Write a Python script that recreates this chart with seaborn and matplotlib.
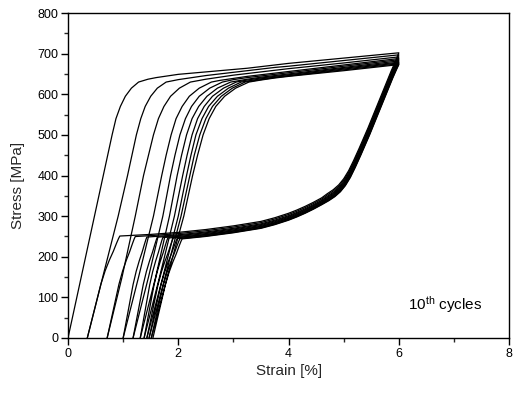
import numpy as np
import pandas as pd
import matplotlib
matplotlib.use("Agg")
import matplotlib.pyplot as plt
import seaborn as sns
from matplotlib.ticker import MultipleLocator

# ---------------- data ----------------
# residual strain at zero stress (start of cycle 1 ... end of cycle 10)
residual = [0.00, 0.35, 0.71, 1.00, 1.18, 1.31, 1.38, 1.43, 1.47, 1.51, 1.54]

# loading branch: strain at given stress levels, one row per cycle
load_levels = [0, 150, 300, 400, 450, 500, 540, 570, 595, 615, 630]
load_strain = [
    [0.00, 0.24, 0.48, 0.64, 0.72, 0.80, 0.87, 0.95, 1.04, 1.15, 1.28],
    [0.35, 0.63, 0.91, 1.08, 1.16, 1.24, 1.32, 1.40, 1.50, 1.62, 1.78],
    [0.71, 0.98, 1.22, 1.37, 1.46, 1.55, 1.64, 1.74, 1.86, 2.02, 2.22],
    [1.00, 1.28, 1.55, 1.70, 1.78, 1.87, 1.96, 2.07, 2.20, 2.38, 2.60],
    [1.18, 1.46, 1.72, 1.86, 1.94, 2.03, 2.13, 2.24, 2.38, 2.57, 2.80],
    [1.31, 1.59, 1.84, 1.98, 2.06, 2.15, 2.25, 2.37, 2.52, 2.71, 2.95],
    [1.38, 1.66, 1.93, 2.08, 2.16, 2.25, 2.35, 2.47, 2.62, 2.82, 3.05],
    [1.43, 1.72, 2.00, 2.15, 2.23, 2.32, 2.43, 2.55, 2.71, 2.91, 3.14],
    [1.47, 1.76, 2.05, 2.21, 2.29, 2.39, 2.50, 2.62, 2.78, 2.98, 3.21],
    [1.51, 1.80, 2.10, 2.26, 2.35, 2.45, 2.56, 2.68, 2.84, 3.04, 3.28],
]

# upper plateau: stress at given strains, one row per cycle
nan = np.nan
upper_x = [1.45, 1.6, 1.8, 2.0, 2.25, 2.5, 2.75, 3.0, 3.25, 3.5, 3.75, 4.0, 5.0, 6.0]
upper_stress = [
    [637, 641, 645, 649, 652, 655, 658, 661, 664, 668, 672, 676, 689, 702],
    [nan, nan, nan, 636, 641, 646, 650, 654, 658, 662, 666, 669, 683, 697],
    [nan, nan, nan, nan, nan, 637, 642, 647, 651, 655, 659, 663, 677, 692],
    [nan, nan, nan, nan, nan, nan, 634, 639, 644, 648, 652, 656, 672, 688],
    [nan, nan, nan, nan, nan, nan, nan, 636, 641, 645, 649, 653, 669, 685],
    [nan, nan, nan, nan, nan, nan, nan, nan, 637, 642, 646, 650, 666, 682],
    [nan, nan, nan, nan, nan, nan, nan, nan, 635, 640, 644, 648, 664, 679],
    [nan, nan, nan, nan, nan, nan, nan, nan, nan, 638, 642, 646, 662, 677],
    [nan, nan, nan, nan, nan, nan, nan, nan, nan, 636, 641, 645, 660, 675],
    [nan, nan, nan, nan, nan, nan, nan, nan, nan, 635, 640, 644, 658, 673],
]

# unloading steep branch (last cycle) and per-cycle strain shift
unload_levels = [660, 640, 600, 550, 500, 450, 420, 395, 375, 360, 348, 338]
unload_strain = [5.955, 5.89, 5.77, 5.62, 5.47, 5.31, 5.21, 5.12, 5.03, 4.94, 4.84, 4.73]
unload_shift = [-0.03, -0.027, -0.023, -0.02, -0.016, -0.013, -0.01, -0.006, -0.003, 0.0]

# lower plateau (last cycle, extended) and per-cycle stress offset
lower_x = [4.6, 4.45, 4.3, 4.15, 4.0, 3.75, 3.5, 3.0, 2.5, 2.0, 1.5, 1.0]
lower_stress = [328, 317, 307, 298, 290, 279, 270, 259, 250, 243, 238, 234]
lower_offset = [17, 14, 11, 9, 7, 5, 4, 2, 1, 0]

# end of lower plateau per cycle, and shape of the final drop to zero stress
knee_x = [0.94, 1.22, 1.43, 1.62, 1.72, 1.81, 1.91, 1.98, 2.03, 2.07]
drop_frac_x = [1.0, 0.96, 0.90, 0.80, 0.68, 0.55, 0.42, 0.0]
drop_frac_s = [1.0, 0.975, 0.93, 0.85, 0.765, 0.66, 0.53, 0.0]

# ---------------- build the curves ----------------
rows = []
for i in range(10):
    xs, ys = [], []
    # loading
    xs += load_strain[i]
    ys += load_levels
    last = load_strain[i][-1]
    for x, s in zip(upper_x, upper_stress[i]):
        if not np.isnan(s) and x > last + 0.12:
            xs.append(x)
            ys.append(s)
    # unloading, steep branch
    for x, s in zip(unload_strain, unload_levels):
        xs.append(x + unload_shift[i])
        ys.append(s + lower_offset[i])
    # lower plateau
    lp = [s + lower_offset[i] for s in lower_stress]
    for x, s in zip(lower_x, lp):
        if x > knee_x[i] + 0.08:
            xs.append(x)
            ys.append(s)
    ks = np.interp(knee_x[i], lower_x[::-1], lp[::-1])
    r = residual[i + 1]
    for fx, fs in zip(drop_frac_x, drop_frac_s):
        xs.append(r + fx * (knee_x[i] - r))
        ys.append(ks * fs)
    for j, (x, y) in enumerate(zip(xs, ys)):
        rows.append({"strain": x, "stress": y, "cycle": i + 1, "order": j})

df = pd.DataFrame(rows)

# ---------------- plot ----------------
sns.set_theme(style="ticks")
plt.rcParams["font.family"] = ["Liberation Sans", "DejaVu Sans"]
plt.rcParams["mathtext.fontset"] = "custom"
plt.rcParams["mathtext.rm"] = "Liberation Sans"
plt.rcParams["mathtext.it"] = "Liberation Sans"

fig = plt.figure(figsize=(5.19, 4.0), dpi=100)
ax = fig.add_axes([0.131, 0.155, 0.850, 0.8125])

sns.lineplot(data=df, x="strain", y="stress", units="cycle", estimator=None,
             sort=False, color="black", linewidth=0.9, ax=ax, legend=False)

ax.set_xlim(0, 8)
ax.set_ylim(0, 800)
ax.xaxis.set_major_locator(MultipleLocator(2))
ax.xaxis.set_minor_locator(MultipleLocator(1))
ax.yaxis.set_major_locator(MultipleLocator(100))
ax.yaxis.set_minor_locator(MultipleLocator(50))
ax.tick_params(which="major", direction="out", length=5, width=1,
               labelsize=9, colors="black", pad=2)
ax.tick_params(which="minor", direction="out", length=3, width=1)
ax.tick_params(top=False, right=False, which="both")
for sp in ax.spines.values():
    sp.set_linewidth(1.0)
    sp.set_color("black")

ax.set_xlabel("Strain [%]", fontsize=11, labelpad=3)
ax.set_ylabel("Stress [MPa]", fontsize=11)
ax.yaxis.set_label_coords(-0.097, 0.468)
ax.text(6.17, 69, r"10$^{\rm th}$ cycles", fontsize=11, color="black")

fig.savefig("out.png", dpi=100)
